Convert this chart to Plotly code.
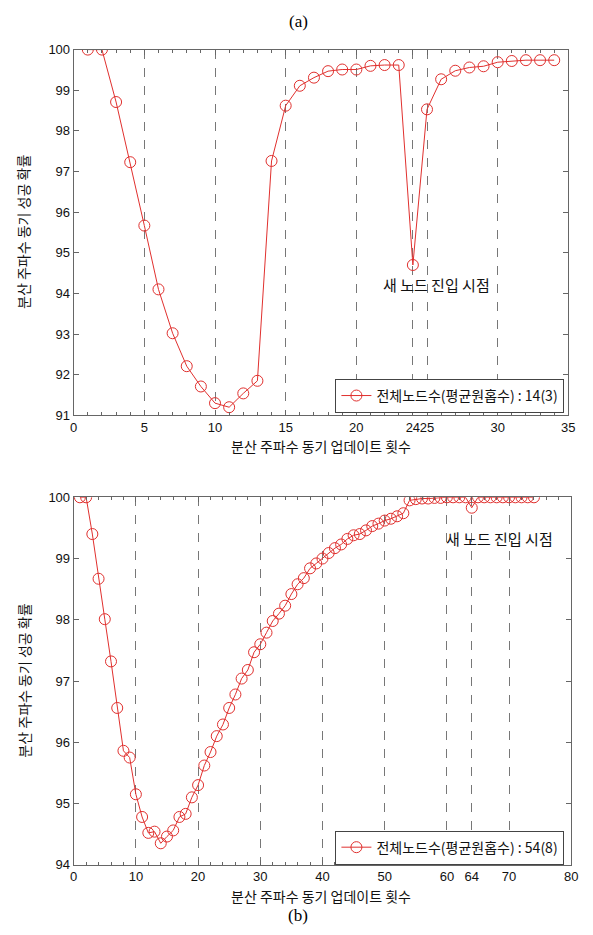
import plotly.graph_objects as go

# ---- data (a) ----
xa = list(range(1, 35))
ya = [100.0, 100.0, 98.71, 97.23, 95.67, 94.10, 93.02, 92.21, 91.71, 91.30,
      91.20, 91.54, 91.85, 97.26, 98.62, 99.11, 99.31, 99.47, 99.51, 99.51,
      99.60, 99.62, 99.62, 94.70, 98.53, 99.27, 99.48, 99.56, 99.59, 99.69,
      99.72, 99.74, 99.74, 99.74]
xticks_a = [0, 5, 10, 15, 20, 24, 25, 30, 35]
yticks_a = [91, 92, 93, 94, 95, 96, 97, 98, 99, 100]
name_a = "전체노드수(평균원홉수) : 14(3)"

# ---- data (b) ----
xb = list(range(1, 75))
yb = [100.0, 100.0, 99.40, 98.67, 98.01, 97.32, 96.56, 95.86, 95.75, 95.15,
      94.78, 94.52, 94.54, 94.35, 94.46, 94.56, 94.78, 94.83, 95.10, 95.30,
      95.62, 95.84, 96.10, 96.29, 96.56, 96.78, 97.04, 97.18, 97.47, 97.60,
      97.79, 97.98, 98.10, 98.23, 98.42, 98.58, 98.68, 98.84, 98.92, 99.00,
      99.09, 99.17, 99.23, 99.32, 99.38, 99.40, 99.46, 99.53, 99.57, 99.62,
      99.65, 99.69, 99.74, 99.95, 99.97, 99.98, 99.98, 99.99, 99.99, 100.0,
      100.0, 100.0, 100.0, 99.83, 100.0, 100.0, 100.0, 100.0, 100.0, 100.0,
      100.0, 100.0, 100.0, 100.0]
xticks_b = [0, 10, 20, 30, 40, 50, 60, 64, 70, 80]
yticks_b = [94, 95, 96, 97, 98, 99, 100]
name_b = "전체노드수(평균원홉수) : 54(8)"

note_text = "새 노드 진입 시점"
note_a = (25.7, 94.23)
note_b = (68.5, 99.33)
xtitle = "분산 주파수 동기 업데이트 횟수"
ytitle = "분산 주파수 동기 성공 확률"

RED = "#e0302e"
KFONT = "Noto Sans CJK KR"
W, H = 593, 935

fig = go.Figure()
fig.add_trace(go.Scatter(x=xa, y=ya, mode="lines+markers", name=name_a,
                         line=dict(color=RED, width=1),
                         marker=dict(symbol="circle-open", size=11, color=RED, line=dict(width=1)),
                         xaxis="x", yaxis="y", legend="legend"))
fig.add_trace(go.Scatter(x=xb, y=yb, mode="lines+markers", name=name_b,
                         line=dict(color=RED, width=1),
                         marker=dict(symbol="circle-open", size=11, color=RED, line=dict(width=1)),
                         xaxis="x2", yaxis="y2", legend="legend2"))

axis_common = dict(showline=True, linecolor="#666", linewidth=1, mirror="allticks",
                   ticks="inside", ticklen=5, tickcolor="#666", zeroline=False,
                   tickfont=dict(family="Liberation Sans", size=13, color="#111"),
                   tickangle=0)

fig.update_layout(
    width=W, height=H, margin=dict(l=0, r=0, t=0, b=0),
    paper_bgcolor="white", plot_bgcolor="white", showlegend=True,
    xaxis=dict(domain=[71/W, 575/W], range=[0, 35], anchor="y",
               tickmode="array", tickvals=xticks_a,
               showgrid=True, gridcolor="#777", griddash="dash", gridwidth=1,
               minor=dict(dtick=1, tick0=0, ticks="inside", ticklen=3, tickcolor="#666", showgrid=False),
               **axis_common),
    yaxis=dict(domain=[1-415/H, 1-43.3/H], range=[91, 100], anchor="x",
               tickmode="array", tickvals=yticks_a, showgrid=False, **axis_common),
    xaxis2=dict(domain=[71/W, 578/W], range=[0, 80], anchor="y2",
                tickmode="array", tickvals=xticks_b,
                showgrid=True, gridcolor="#777", griddash="dash", gridwidth=1,
                minor=dict(dtick=2, tick0=0, ticks="inside", ticklen=3, tickcolor="#666", showgrid=False),
                **axis_common),
    yaxis2=dict(domain=[1-871.7/H, 1-498.3/H], range=[94, 100], anchor="x2",
                tickmode="array", tickvals=yticks_b, showgrid=False, **axis_common),
    legend=dict(x=571/W, xanchor="right", y=1-378/H, yanchor="top",
                bordercolor="#444", borderwidth=1, bgcolor="white",
                font=dict(family=KFONT, size=14, color="#111")),
    legend2=dict(x=571/W, xanchor="right", y=1-837/H, yanchor="top",
                 bordercolor="#444", borderwidth=1, bgcolor="white",
                 font=dict(family=KFONT, size=14, color="#111")),
)

ann = []
ann.append(dict(x=note_a[0], y=note_a[1], xref="x", yref="y", text=note_text, showarrow=False,
                xanchor="center", yanchor="middle",
                font=dict(family=KFONT, size=15, color="#111")))
ann.append(dict(x=note_b[0], y=note_b[1], xref="x2", yref="y2", text=note_text, showarrow=False,
                xanchor="center", yanchor="middle",
                font=dict(family=KFONT, size=15, color="#111")))
for yc in (446, 903):
    ann.append(dict(x=323/W, y=1-yc/H, xref="paper", yref="paper", text=xtitle, showarrow=False,
                    xanchor="center", yanchor="middle",
                    font=dict(family=KFONT, size=14, color="#111")))
for yc in (229, 685):
    ann.append(dict(x=20/W, y=1-yc/H, xref="paper", yref="paper", text=ytitle, showarrow=False,
                    xanchor="center", yanchor="middle",
                    textangle=-90, font=dict(family=KFONT, size=14, color="#111")))
ann.append(dict(x=300/W, y=1-15/H, xref="paper", yref="paper", text="(a)", showarrow=False,
                xanchor="center", yanchor="middle",
                font=dict(family="Liberation Serif", size=17, color="#000")))
ann.append(dict(x=300/W, y=1-923/H, xref="paper", yref="paper", text="(b)", showarrow=False,
                xanchor="center", yanchor="middle",
                font=dict(family="Liberation Serif", size=17, color="#000")))
fig.update_layout(annotations=ann)

fig.write_html("out.html")
